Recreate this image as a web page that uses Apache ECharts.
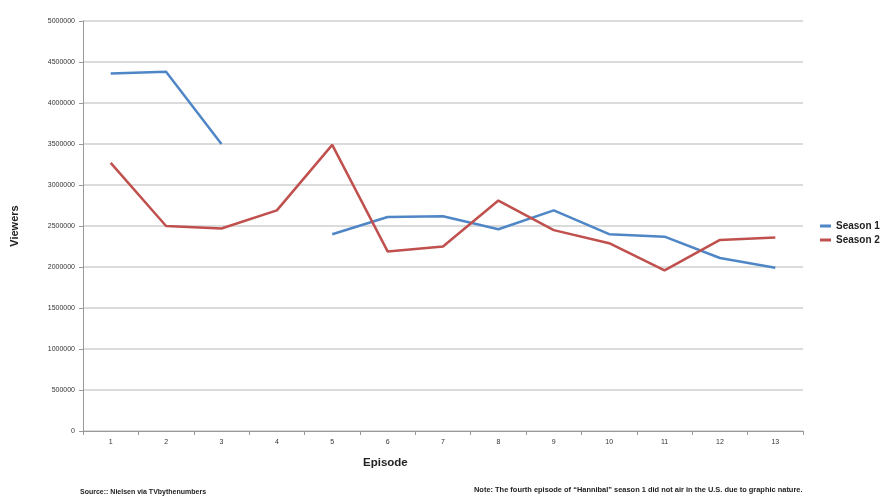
<!DOCTYPE html>
<html>
<head>
<meta charset="utf-8">
<script src="https://cdn.jsdelivr.net/npm/echarts@6/dist/echarts.min.js"></script>
<style>html,body{margin:0;padding:0;background:#fff}#c{width:881px;height:498px}</style>
</head>
<body>
<div id="c"></div>
<script>
const episodes = ['1','2','3','4','5','6','7','8','9','10','11','12','13'];
const season1 = [4360000, 4380000, 3500000, null, 2400000, 2610000, 2620000, 2460000, 2690000, 2400000, 2370000, 2110000, 1990000];
const season2 = [3270000, 2500000, 2470000, 2690000, 3490000, 2190000, 2250000, 2810000, 2450000, 2290000, 1960000, 2330000, 2360000];
const yTicks = [0, 500000, 1000000, 1500000, 2000000, 2500000, 3000000, 3500000, 4000000, 4500000, 5000000];

const FONT = "'Liberation Sans', Arial, sans-serif";
const chart = echarts.init(document.getElementById('c'), null, {renderer: 'canvas'});
chart.setOption({
  animation: false,
  backgroundColor: '#fff',
  textStyle: {fontFamily: FONT},
  title: [
    {text: 'Episode', left: 363, top: 457, padding: 0,
     textStyle: {fontSize: 11.5, fontWeight: 'bold', color: '#222', fontFamily: FONT}},
    {text: 'Source:: Nielsen via TVbythenumbers', left: 80, top: 489, padding: 0,
     textStyle: {fontSize: 7, fontWeight: 'bold', color: '#222', fontFamily: FONT}},
    {text: 'Note: The fourth episode of \u201cHannibal\u201d season 1 did not air in the U.S. due to graphic nature.', left: 474, top: 486, padding: 0,
     textStyle: {fontSize: 7.45, fontWeight: 'bold', color: '#222', fontFamily: FONT}}
  ],
  legend: {
    orient: 'vertical', left: 815, top: 216, itemWidth: 11, itemHeight: 3, itemGap: 4,
    icon: 'rect',
    textStyle: {fontSize: 10, fontWeight: 'bold', color: '#222', fontFamily: FONT},
    data: ['Season 1', 'Season 2']
  },
  grid: {left: 83, right: 78, top: 21, bottom: 67, containLabel: false},
  xAxis: {
    type: 'category', data: episodes, boundaryGap: true,
    axisLine: {lineStyle: {color: '#999', width: 1}},
    axisTick: {show: true, length: 4, inside: false, lineStyle: {color: '#999'}},
    axisLabel: {fontSize: 7, color: '#333', margin: 8, fontFamily: FONT}
  },
  yAxis: {
    type: 'value', min: 0, max: 5000000, interval: 500000,
    name: 'Viewers', nameLocation: 'middle', nameGap: 63, nameRotate: 90,
    nameTextStyle: {fontSize: 11, fontWeight: 'bold', color: '#222', fontFamily: FONT},
    axisLine: {show: true, lineStyle: {color: '#999', width: 1}},
    axisTick: {show: true, length: 4, lineStyle: {color: '#999'}},
    axisLabel: {fontSize: 7, color: '#333', margin: 8, fontFamily: FONT,
      formatter: v => yTicks.includes(v) ? String(v) : ''},
    splitLine: {show: true, lineStyle: {color: '#cfcfcf', width: 1.5}}
  },
  series: [
    {name: 'Season 1', type: 'line', data: season1, connectNulls: false, showSymbol: false, symbol: 'none',
     lineStyle: {color: '#4F86C6', width: 2.5}, itemStyle: {color: '#4F86C6'}},
    {name: 'Season 2', type: 'line', data: season2, connectNulls: false, showSymbol: false, symbol: 'none',
     lineStyle: {color: '#C0504D', width: 2.5}, itemStyle: {color: '#C0504D'}}
  ]
});
</script>
</body>
</html>
